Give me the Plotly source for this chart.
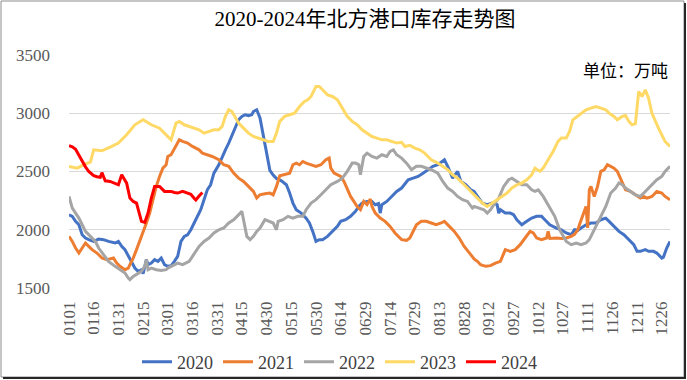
import datetime as dt
import plotly.graph_objects as go

# ---- data (day offset from 1 Jan, value in 万吨) ----
days_2020 = [0, 2, 4, 6, 8, 10, 12, 15, 18, 21, 24, 28, 30, 32, 34, 36, 38, 40, 42, 44, 45, 47, 48, 50, 52, 54, 56, 58, 60,
             62, 64, 66, 68, 70, 72, 74, 76, 78, 80, 82, 84, 86, 88, 91, 93, 95, 97, 99, 101, 103, 105, 107, 109, 111, 112,
             114, 116, 118, 120, 122, 124, 126, 129, 132, 134, 136, 138, 141, 144, 146, 148, 150, 152, 154, 157, 160, 163,
             165, 168, 171, 174, 176, 178, 181, 184, 186, 188, 189, 190, 193, 196, 199, 202, 206, 209, 212, 215, 218, 221,
             224, 228, 230, 233, 236, 238, 241, 244, 246, 248, 251, 254, 257, 260, 261, 262, 265, 268, 270, 272, 275, 278,
             281, 284, 287, 289, 292, 296, 299, 302, 305, 307, 309, 311, 314, 317, 320, 323, 326, 328, 331, 334, 337, 340,
             343, 345, 347, 350, 352, 355, 357, 360, 361, 363, 365]
vals_2020 = [2129, 2115, 2072, 2043, 1957, 1929, 1915, 1900, 1920, 1915, 1900, 1886, 1900, 1857, 1829, 1772, 1714, 1671,
             1643, 1657, 1623, 1743, 1700, 1714, 1743, 1729, 1757, 1700, 1686,
             1690, 1729, 1772, 1900, 1943, 1957, 2000, 2058, 2115, 2172, 2258, 2343, 2386, 2486, 2558, 2629, 2686, 2744,
             2815, 2887, 2944, 2973, 2987, 2980, 2987, 3015,
             3030, 2960, 2820, 2650, 2510, 2470, 2440, 2420, 2386, 2315, 2229, 2172, 2143, 2100, 2058, 1986, 1900, 1915,
             1915, 1943, 1986, 2029,
             2072, 2086, 2115, 2158, 2200, 2229, 2243, 2243, 2215, 2225, 2143, 2215, 2243, 2286, 2329, 2358, 2429, 2443,
             2458, 2486, 2515, 2544,
             2558, 2601, 2544, 2443, 2501, 2415, 2386, 2343, 2329, 2286, 2229, 2215, 2229, 2215, 2143, 2172, 2143, 2143,
             2129, 2086, 2043, 2072,
             2100, 2115, 2115, 2086, 2043, 2015, 2000, 1972, 1957, 2000, 1995, 2015, 2043, 2058, 2058, 2086, 2100, 2072,
             2029, 1986, 1957, 1915,
             1872, 1815, 1815, 1829, 1815, 1815, 1800, 1757, 1765, 1843, 1900]

days_2021 = [0, 2, 4, 6, 8, 10, 12, 14, 17, 20, 23, 27, 29, 31, 34, 36, 37, 39, 41, 43, 45, 47, 49, 51, 53, 55, 57, 59, 60,
             62, 65, 67, 69, 72, 75, 79, 81, 84, 87, 91, 94, 97, 100, 103, 106, 109, 112, 114, 116, 119, 122, 124, 126,
             128, 131, 134, 136, 138, 140, 142, 144, 147, 150, 153, 156, 158, 159, 161, 165, 167, 169, 171, 173, 175, 177,
             179, 181, 183, 184, 186, 189, 192, 195, 198, 202, 205, 207, 209, 211, 214, 217, 220, 223, 226, 228, 231, 234,
             237, 240, 244, 246, 248, 250, 253, 256, 259, 262, 265, 268, 271, 274, 277, 280, 282, 284, 287, 290, 291, 292,
             296, 299, 302, 305, 307, 309, 310, 312, 314, 315, 316, 317, 319, 321, 323, 325, 327, 329, 331, 333, 335, 338,
             341, 344, 347, 349, 351, 354, 357, 360, 362, 365]
vals_2021 = [1943, 1900, 1843, 1800, 1843, 1886, 1857, 1829, 1800, 1757, 1743, 1757, 1714, 1686, 1657, 1671, 1700, 1757,
             1829, 1900, 1972, 2058, 2143, 2258, 2372, 2458, 2529, 2558, 2629,
             2644, 2715, 2772, 2758, 2744, 2715, 2686, 2658, 2644, 2629, 2601, 2558, 2544, 2486, 2443, 2415, 2372, 2329,
             2272, 2300, 2309, 2315, 2300, 2372,
             2463, 2472, 2486, 2558, 2572, 2558, 2586, 2572, 2558, 2544, 2558, 2601, 2615, 2529, 2486, 2458, 2415, 2343,
             2286, 2243, 2200, 2172,
             2243, 2215, 2263, 2200, 2143, 2100, 2072, 2029, 1972, 1915, 1909, 1929, 1986, 2043, 2072, 2072, 2058, 2043,
             2058, 2072, 2029, 1986,
             1929, 1857, 1786, 1750, 1729, 1700, 1686, 1692, 1714, 1729, 1829, 1815, 1829, 1872, 1929, 1986, 1972, 1929,
             1915, 1929, 1986, 1925,
             1929, 1925, 1929, 1943, 1960, 2000, 2043, 2115, 2200, 2015, 2343, 2372, 2286, 2372, 2501, 2515, 2558, 2544,
             2529, 2501, 2443, 2343,
             2329, 2300, 2272, 2286, 2272, 2286, 2329, 2315, 2286, 2258]

days_2022 = [0, 2, 4, 6, 8, 10, 13, 16, 18, 21, 24, 28, 31, 34, 36, 37, 39, 42, 44, 46, 47, 48, 50, 53, 56, 59, 60, 63, 66,
             69, 71, 73, 75, 77, 79, 82, 85, 88, 91, 94, 97, 100, 102, 104, 105, 106, 108, 110, 112, 114, 116, 119, 122,
             124, 126, 127, 130, 133, 136, 139, 142, 144, 147, 150, 153, 156, 159, 163, 166, 169, 172, 174, 176, 177, 178,
             179, 181, 184, 187, 190, 193, 195, 197, 199, 202, 205, 208, 211, 214, 217, 220, 224, 227, 230, 233, 236, 239,
             242, 245, 246, 249, 252, 254, 256, 258, 261, 264, 267, 269, 272, 275, 278, 281, 283, 285, 288, 291, 295, 298,
             300, 302, 305, 308, 311, 314, 316, 318, 320, 323, 326, 329, 332, 334, 336, 338, 341, 344, 347, 349, 351, 354,
             357, 360, 362, 365]
vals_2022 = [2286, 2186, 2143, 2100, 2043, 1986, 1943, 1900, 1843, 1786, 1729, 1686, 1657, 1629, 1586, 1572, 1600, 1629,
             1643, 1686, 1743, 1657, 1671, 1657, 1650, 1657, 1671, 1692, 1714,
             1700, 1714, 1729, 1772, 1815, 1857, 1900, 1929, 1972, 2000, 2015, 2058, 2086, 2115, 2143, 2158, 2086, 1943,
             1915, 1943, 1986, 2015, 2086, 2072,
             2058, 2000, 2072, 2086, 2115, 2100, 2115, 2115, 2172, 2229, 2258, 2300, 2343, 2386, 2415, 2443, 2501, 2572,
             2572, 2558, 2472, 2560,
             2629, 2658, 2629, 2615, 2644, 2629, 2672, 2686, 2644, 2615, 2572, 2515, 2544, 2544, 2529, 2515, 2486, 2415,
             2358, 2329, 2286, 2258,
             2243, 2186, 2200, 2186, 2172, 2143, 2172, 2215, 2272, 2372, 2429, 2443, 2415, 2386, 2386, 2343, 2329, 2343,
             2286, 2215, 2115, 2000,
             1943, 1900, 1872, 1886, 1872, 1886, 1915, 1972, 2029, 2115, 2200, 2315, 2358, 2401, 2386, 2358, 2329, 2300,
             2286, 2315, 2343, 2386,
             2429, 2458, 2501, 2544]

days_2023 = [0, 5, 10, 13, 15, 20, 25, 30, 35, 40, 45, 50, 55, 60, 62, 65, 67, 70, 73, 76, 79, 82, 85, 88, 91, 93, 95, 97,
             99, 101, 103, 106, 109, 112, 115, 118, 121, 124, 126, 128, 131, 134, 137, 140, 143, 145, 147, 150, 152, 155,
             157, 160, 163, 166, 169, 172, 175, 178, 181, 184, 187, 190, 193, 196, 199, 202, 204, 207, 210, 213, 216, 218,
             220, 224, 227, 230, 233, 236, 239, 242, 245, 248, 251, 254, 257, 260, 263, 266, 269, 272, 275, 278, 281, 283,
             286, 288, 291, 294, 297, 299, 302, 304, 306, 308, 311, 314, 317, 320, 323, 326, 328, 331, 333, 336, 338, 340,
             342, 344, 346, 348, 350, 352, 354, 356, 358, 360, 362, 365]
vals_2023 = [2543, 2529, 2566, 2580, 2686, 2678, 2709, 2744, 2815, 2901, 2944, 2901, 2872, 2801, 2772, 2915, 2930, 2901,
             2887, 2872, 2858, 2829, 2844, 2858, 2858, 2887, 2973, 3030,
             3015, 2958, 2915, 2872, 2829, 2801, 2787, 2772, 2758, 2758, 2829, 2930, 2973, 2987, 3001, 3058, 3101, 3115,
             3144, 3230, 3230, 3187,
             3158, 3144, 3115, 3044, 2973, 2930, 2901, 2858, 2829, 2800, 2787, 2772, 2772, 2758, 2744, 2750, 2715, 2725,
             2701, 2686, 2658, 2629,
             2601, 2572, 2544, 2515, 2472, 2443, 2401, 2358, 2315, 2272, 2229, 2200, 2229, 2258, 2286, 2315, 2358, 2386,
             2401, 2429, 2472, 2529,
             2501, 2529, 2601, 2672, 2758, 2787, 2787, 2844, 2944, 2965, 3001, 3030, 3044, 3058, 3044, 3030, 3001, 2973,
             2944, 2973, 2980, 2930,
             2901, 2910, 3187, 3144, 3201, 3130, 3001, 2930, 2872, 2815, 2758, 2715]

days_2024 = [0, 2, 4, 6, 8, 10, 12, 15, 17, 19, 20, 22, 25, 28, 30, 32, 35, 37, 39, 41, 43, 44, 46, 48, 50, 52, 55, 58, 60,
             62, 64, 66, 69, 72, 74, 76, 77, 79, 81]
vals_2024 = [2721, 2712, 2690, 2640, 2585, 2540, 2500, 2465, 2455, 2450, 2490, 2420, 2415, 2400, 2386, 2472, 2400, 2272,
             2243, 2229, 2115, 2072, 2063, 2143, 2272, 2372, 2372, 2329, 2329,
             2329, 2320, 2315, 2329, 2315, 2305, 2270, 2255, 2290, 2320]

series = [
    ("2020", days_2020, vals_2020, "#4472C4"),
    ("2021", days_2021, vals_2021, "#ED7D31"),
    ("2022", days_2022, vals_2022, "#A5A5A5"),
    ("2023", days_2023, vals_2023, "#FFD966"),
    ("2024", days_2024, vals_2024, "#FF0000"),
]

# category axis: every day of a leap year as MMDD
base = dt.date(2020, 1, 1)
all_dates = [(base + dt.timedelta(days=i)).strftime("%m%d") for i in range(366)]
tick_labels = all_dates[::15]

fig = go.Figure()
for name, days, vals, color in series:
    fig.add_trace(go.Scatter(
        x=[all_dates[d] for d in days], y=vals, name=name, mode="lines",
        line=dict(color=color, width=3),
    ))

W, H = 687, 380
L, R, T, B = 69, 17, 55, 92
pw, ph = W - L - R, H - T - B

fig.update_layout(
    width=W, height=H,
    margin=dict(l=L, r=R, t=T, b=B, autoexpand=False),
    paper_bgcolor="white", plot_bgcolor="white",
    font=dict(family="Liberation Serif, Noto Sans CJK SC", color="#595959", size=17),
    title=dict(text="2020-2024年北方港口库存走势图", x=365 / W, xref="container", xanchor="center",
               y=1 - 19 / H, yref="container", yanchor="middle", automargin=False,
               font=dict(size=21, color="#000000", family="Liberation Serif, Noto Sans CJK SC")),
    showlegend=True,
    legend=dict(orientation="h", xref="container", yref="container", x=137 / W, xanchor="left",
                y=1 - 362 / H, yanchor="middle",
                font=dict(size=18, color="#404040"), itemwidth=30, bgcolor="rgba(0,0,0,0)"),
    xaxis=dict(type="category", categoryorder="array", categoryarray=all_dates, automargin=False,
               range=[0, 365], tickmode="array", tickvals=tick_labels, ticktext=tick_labels,
               tickangle=-90, showgrid=False, showline=False, zeroline=False, ticks="",
               ticklabelstandoff=9, tickfont=dict(size=17, color="#595959")),
    yaxis=dict(range=[1500, 3500], dtick=500, tick0=1500, showgrid=True, gridcolor="#D9D9D9", gridwidth=1,
               automargin=False, showline=False, zeroline=False, ticks="", ticklabelstandoff=18,
               tickfont=dict(size=17, color="#595959")),
    annotations=[dict(text="单位：万吨", xref="paper", yref="paper", x=1.0, y=(H - B - 69) / ph,
                      xanchor="right", yanchor="middle", showarrow=False,
                      font=dict(size=17, color="#000000", family="Noto Sans CJK SC"))],
)

# chart frame with shadow
px = lambda x: (x - L) / pw
py = lambda y: (H - B - y) / ph
fig.add_shape(type="rect", xref="paper", yref="paper", x0=px(1), x1=px(684), y0=py(377), y1=py(1),
              line=dict(color="#8C8C8C", width=1), fillcolor="rgba(0,0,0,0)", layer="above")
fig.add_shape(type="line", xref="paper", yref="paper", x0=px(685), x1=px(685), y0=py(379), y1=py(3),
              line=dict(color="#262626", width=2))
fig.add_shape(type="line", xref="paper", yref="paper", x0=px(3), x1=px(686), y0=py(378), y1=py(378),
              line=dict(color="#262626", width=2))

fig.write_html("out.html", config={"displayModeBar": False},
               post_script="document.body.style.margin='0';document.body.style.overflow='hidden';")
